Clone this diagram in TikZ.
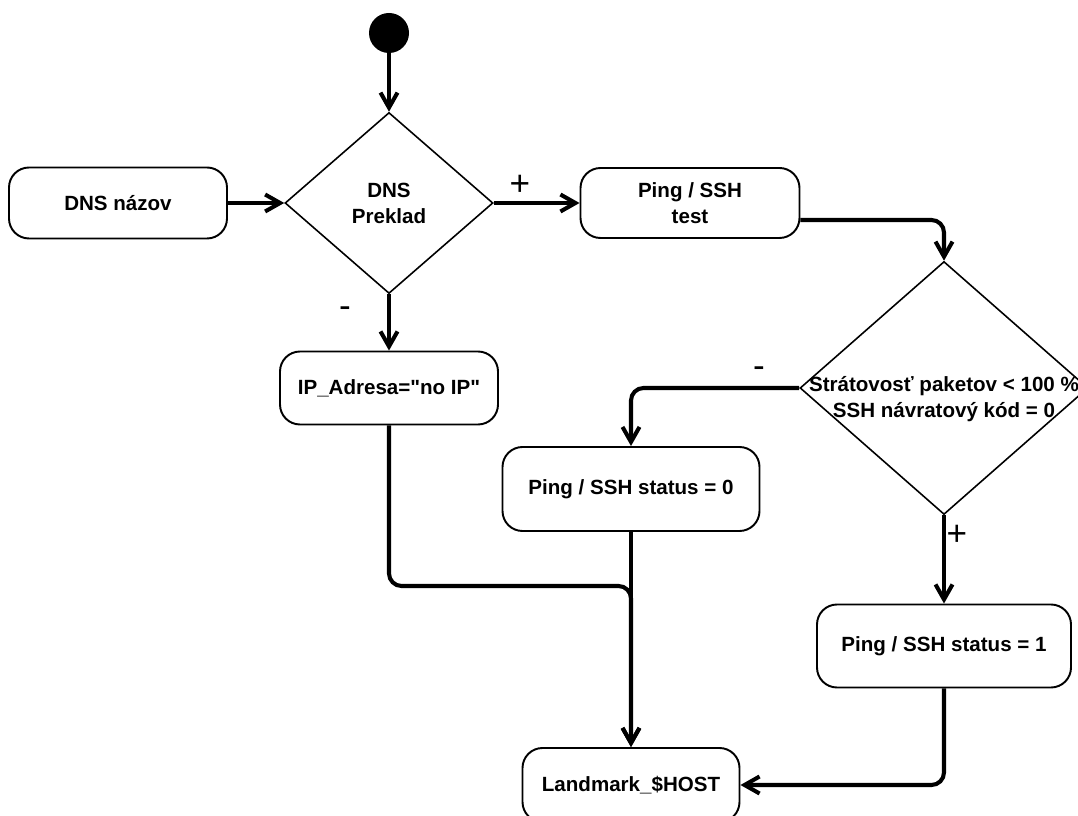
\documentclass[tikz,border=0pt]{standalone}
\usepackage{fontspec}
\setmainfont{Liberation Sans}
\usetikzlibrary{shapes.geometric, arrows.meta}

\begin{document}
\begin{tikzpicture}[
    font=\bfseries\fontsize{11.7}{14.8}\selectfont,
    box/.style={draw, line width=1.1pt, rounded corners=0.4cm, align=center, inner sep=0pt},
    decision/.style={draw, diamond, line width=0.9pt, inner sep=0pt, align=center},
    conn/.style={line width=2.3pt, rounded corners=0.25cm, -{Straight Barb[length=3mm,width=3.4mm]}},
    sign/.style={font=\mdseries\fontsize{20}{24}\selectfont}
]
    \useasboundingbox (0,0) rectangle (21.56,-16.32);
    % zaciatok a preklad DNS
    \node[circle, fill, minimum size=0.8cm, inner sep=0pt] (start) at (7.78,-0.66) {};
    \node[box, minimum width=4.36cm, minimum height=1.42cm] (dns) at (2.36,-4.06) {DNS názov};
    \node[decision, minimum width=4.16cm, minimum height=3.62cm] (d1) at (7.78,-4.06) {DNS\\Preklad};
    \node[box, minimum width=4.38cm, minimum height=1.40cm] (ptest) at (13.8,-4.06) {Ping / SSH\\test};
    \node[box, minimum width=4.36cm, minimum height=1.46cm] (ip) at (7.78,-7.76) {IP\_Adresa=\textquotedbl no IP\textquotedbl};
    % test Ping / SSH
    \node[decision, minimum width=5.76cm, minimum height=5.06cm] (d2) at (18.88,-7.76) {};
    \node[align=center, inner sep=0pt] (d2t) at (18.88,-7.98) {Strátovosť paketov < 100 \%\\SSH návratový kód = 0};
    \node[box, minimum width=5.14cm, minimum height=1.68cm] (p0) at (12.62,-9.78) {Ping / SSH status = 0};
    \node[box, minimum width=5.08cm, minimum height=1.66cm] (p1) at (18.88,-12.92) {Ping / SSH status = 1};
    \node[box, minimum width=4.34cm, minimum height=1.48cm] (land) at (12.62,-15.70) {Landmark\_\$HOST};
    \coordinate (join) at (12.62,-11.72);
    % znamienka
    \node[sign] (plus1) at (10.4,-3.7) {+};
    \node[sign] (minus1) at (6.9,-6.24) {-};
    \node[sign] (minus2) at (15.18,-7.44) {-};
    \node[sign] (plus2) at (19.14,-10.7) {+};
    % spojnice
    \draw[conn] (start) -- (d1.north);
    \draw[conn] (dns) -- (d1.west);
    \draw[conn] (d1.east) -- (ptest.west);
    \draw[conn] (d1.south) -- (ip.north);
    \draw[conn] ([yshift=-0.34cm]ptest.east) -| (d2.north);
    \draw[conn] (d2.west) -| (p0.north);
    \draw[conn] (d2.south) -- (p1.north);
    \draw[conn] (ip.south) |- (join) -- (land.north);
    \draw[conn] (p0.south) -- (land.north);
    \draw[conn] (p1.south) |- (land.east);
\end{tikzpicture}
\end{document}
